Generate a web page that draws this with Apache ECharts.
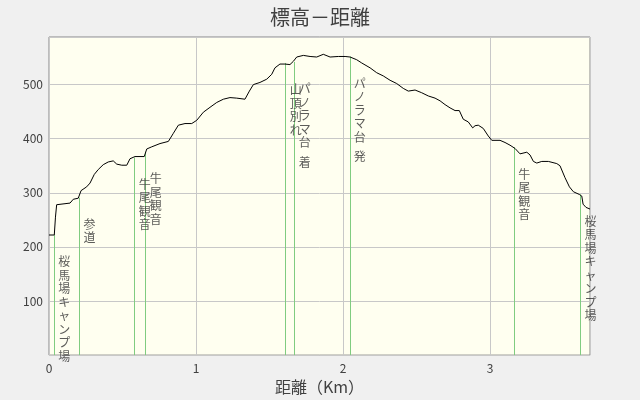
<!DOCTYPE html>
<html>
<head>
<meta charset="utf-8">
<script src="https://cdn.jsdelivr.net/npm/echarts@6/dist/echarts.min.js"></script>
<style>html,body{margin:0;padding:0;background:#f0f0f0;}#c{width:640px;height:400px;}</style>
</head>
<body>
<div id="c"></div>
<script>
// Profile: distance (km), elevation (m)
const distances = [0,0.036,0.044,0.052,0.058,0.143,0.165,0.199,0.218,0.256,0.279,0.308,0.335,0.369,0.403,0.437,0.461,0.495,0.529,0.551,0.585,0.648,0.665,0.699,0.755,0.812,0.846,0.880,0.925,0.971,1.005,1.050,1.095,1.141,1.186,1.231,1.277,1.333,1.363,1.390,1.435,1.481,1.515,1.537,1.571,1.605,1.639,1.662,1.685,1.730,1.776,1.821,1.866,1.912,1.968,2.014,2.048,2.093,2.127,2.184,2.229,2.274,2.320,2.365,2.410,2.444,2.490,2.535,2.580,2.626,2.660,2.694,2.728,2.762,2.791,2.818,2.852,2.882,2.898,2.920,2.954,2.988,3.012,3.068,3.102,3.136,3.170,3.204,3.216,3.250,3.272,3.295,3.318,3.352,3.397,3.454,3.476,3.510,3.540,3.567,3.607,3.624,3.633,3.653,3.680];
const elevations = [222,222,255,278,280,281,288,290,304,311,318,334,343,352,357,359,353,351,351,363,367,367,381,385,391,395,410,425,428,428,434,449,458,467,473,476,475,473,488,500,504,510,519,531,538,538,537,543,551,554,552,551,556,551,552,552,551,546,540,531,522,516,508,502,493,488,490,485,479,475,470,463,457,452,452,436,431,420,424,425,419,405,397,397,393,388,382,372,375,375,370,358,355,358,358,354,350,328,311,302,297,294,279,273,270];

// Waypoint markers
const markerDist = [0.036,0.208,0.583,0.658,1.610,1.671,2.046,3.165,3.615];
const markerElev = [222,291,365,376,540,542,552,384,297];
const markerNames = ['桜馬場キャンプ場','参道','牛尾観音','牛尾観音','山頂別れ','パノラマ台 着','パノラマ台 発','牛尾観音','桜馬場キャンプ場'];

// Axis ticks
const xTicks = [0,1,2,3];
const yTicks = [100,200,300,400,500];

const FONT = '"Noto Sans CJK JP", "Noto Sans", sans-serif';
const chart = echarts.init(document.getElementById('c'), null, {renderer:'canvas'});

const profile = distances.map((d,i)=>[d, elevations[i]]);

chart.setOption({
  backgroundColor:'#f0f0f0',
  animation:false,
  title:{
    text:'標高－距離', left:'center', top:2,
    textStyle:{fontFamily:FONT, fontSize:20, fontWeight:'normal', color:'#404040'}
  },
  grid:{left:49, right:50, top:37, bottom:40, show:true, backgroundColor:'#fffff0', borderColor:'#888888', borderWidth:1},
  xAxis:{
    type:'value', min:0, max:3.68, interval:1,
    name:'距離（Km）', nameLocation:'middle', nameGap:21,
    nameTextStyle:{fontFamily:FONT, fontSize:16, color:'#404040'},
    axisLine:{show:false}, axisTick:{show:false},
    axisLabel:{fontFamily:FONT, fontSize:12, color:'#404040', margin:7, showMaxLabel:false,
      formatter:v=> xTicks.includes(v) ? String(v) : ''},
    splitLine:{show:true, lineStyle:{color:'#c8c8c8', width:1}}
  },
  yAxis:{
    type:'value', min:0, max:588, interval:100,
    axisLine:{show:false}, axisTick:{show:false},
    axisLabel:{fontFamily:FONT, fontSize:12, color:'#404040', margin:6, showMinLabel:false, showMaxLabel:false,
      formatter:v=> yTicks.includes(v) ? String(v) : ''},
    splitLine:{show:true, lineStyle:{color:'#c8c8c8', width:1}}
  },
  series:[
    {
      type:'line', data:[], symbol:'none',
      markLine:{
        silent:true, symbol:'none', animation:false,
        lineStyle:{color:'#80cc80', width:1, type:'solid'},
        label:{show:false},
        data: markerDist.map((d,i)=>[{coord:[d,0]},{coord:[d,markerElev[i]]}])
      }
    },
    {
      type:'line', data:profile, symbol:'none', showSymbol:false,
      lineStyle:{color:'#000000', width:1}, z:5
    },
    {
      type:'scatter', symbolSize:0, z:6,
      data: markerDist.map((d,i)=>({value:[d, markerElev[i]], name:markerNames[i]})),
      label:{
        show:true, position:'bottom', distance:20, offset:[10,0],
        fontFamily:FONT, fontSize:12, lineHeight:13.5, color:'#333333', align:'center',
        formatter:p=> p.name.split('').map(ch=> ch===' ' ? '{s| }' : ch).join('\n'),
        rich:{s:{lineHeight:6, fontSize:6}}
      }
    }
  ]
});
</script>
</body>
</html>
